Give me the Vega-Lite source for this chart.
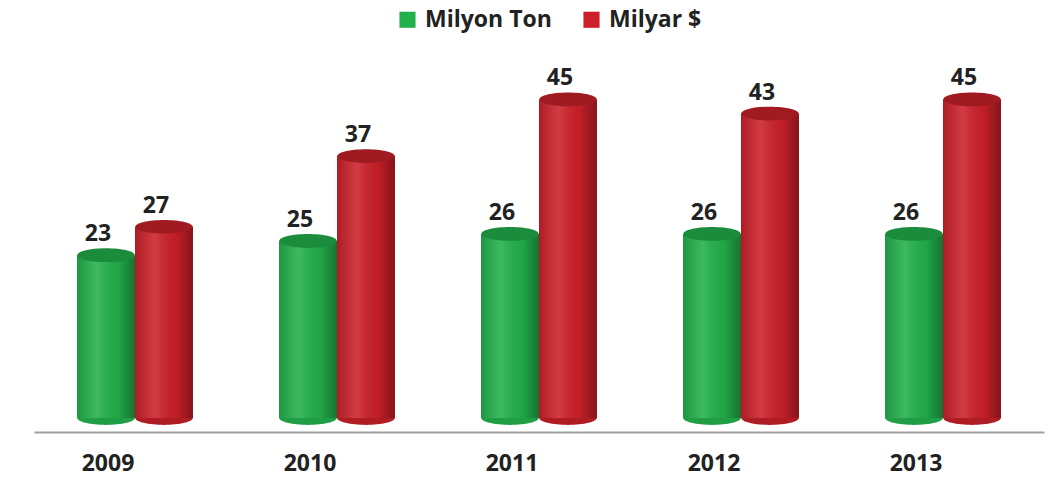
{
  "$schema": "https://vega.github.io/schema/vega-lite/v6.json",
  "width": 1010,
  "height": 354,
  "autosize": "none",
  "padding": {"left": 34, "top": 64, "right": 15, "bottom": 61},
  "background": "white",
  "config": {"view": {"stroke": null}, "font": "Open Sans"},
  "data": {"values": [
    {"year": "2009", "series": "Milyon Ton", "value": 23},
    {"year": "2009", "series": "Milyar $", "value": 27},
    {"year": "2010", "series": "Milyon Ton", "value": 25},
    {"year": "2010", "series": "Milyar $", "value": 37},
    {"year": "2011", "series": "Milyon Ton", "value": 26},
    {"year": "2011", "series": "Milyar $", "value": 45},
    {"year": "2012", "series": "Milyon Ton", "value": 26},
    {"year": "2012", "series": "Milyar $", "value": 43},
    {"year": "2013", "series": "Milyon Ton", "value": 26},
    {"year": "2013", "series": "Milyar $", "value": 45}
  ]},
  "encoding": {
    "x": {"field": "year", "type": "nominal", "title": null,
      "scale": {"paddingInner": 0.426, "paddingOuter": 0.213},
      "axis": {"labelAngle": 0, "ticks": false, "domainColor": "#a0a0a0", "domainWidth": 2, "offset": 14, "labelOffset": -27,
        "labelFont": "Open Sans", "labelFontSize": 23, "labelFontWeight": "bold", "labelColor": "#222222", "labelPadding": 20}},
    "xOffset": {"field": "series", "type": "nominal", "sort": ["Milyon Ton", "Milyar $"], "scale": {"paddingInner": 0, "paddingOuter": 0}},
    "y": {"field": "value", "type": "quantitative", "scale": {"domain": [0, 50]}, "axis": null}
  },
  "layer": [
    {
      "mark": {"type": "point", "filled": true, "opacity": 1, "shape": "M-1,0 A1,0.24 0 1,0 1,0 A1,0.24 0 1,0 -1,0 Z", "size": 3300},
      "encoding": {
        "y": {"datum": 0},
        "color": {"field": "series", "type": "nominal", "legend": null, "sort": ["Milyon Ton", "Milyar $"],
          "scale": {"domain": ["Milyon Ton", "Milyar $"], "range": ["#1f9e45", "#b01c24"]}}
      }
    },
    {
      "mark": {"type": "bar"},
      "encoding": {
        "color": {"field": "series", "type": "nominal", "sort": ["Milyon Ton", "Milyar $"],
          "scale": {"domain": ["Milyon Ton", "Milyar $"], "range": ["#22b04b", "#cc2029"]},
          "legend": {"title": null, "orient": "none", "legendX": 362, "legendY": -56, "direction": "horizontal", "symbolType": "square", "symbolSize": 260,
            "labelFont": "Open Sans", "labelFontSize": 23, "labelFontWeight": "bold", "labelColor": "#222222", "columnPadding": 28, "labelOffset": 6, "symbolStrokeWidth": 0}}
      }
    },
    {
      "mark": {"type": "bar", "fill": {"x1": 0, "x2": 1, "y1": 0, "y2": 0, "gradient": "linear", "stops": [
        {"offset": 0, "color": "rgba(0,0,0,0.15)"},
        {"offset": 0.35, "color": "rgba(255,255,255,0.12)"},
        {"offset": 0.7, "color": "rgba(0,0,0,0.05)"},
        {"offset": 1, "color": "rgba(0,0,0,0.35)"}]}},
      "encoding": {}
    },
    {
      "mark": {"type": "point", "filled": true, "opacity": 1, "shape": "M-1,0 A1,0.24 0 1,0 1,0 A1,0.24 0 1,0 -1,0 Z", "size": 3300},
      "encoding": {
        "color": {"field": "series", "type": "nominal", "legend": null, "sort": ["Milyon Ton", "Milyar $"],
          "scale": {"domain": ["Milyon Ton", "Milyar $"], "range": ["#1a8c3c", "#a01a22"]}}
      }
    },
    {
      "mark": {"type": "text", "baseline": "bottom", "dy": -9, "dx": -8, "font": "Open Sans", "fontSize": 23, "fontWeight": "bold", "color": "#222222"},
      "encoding": {"text": {"field": "value", "type": "quantitative"}}
    }
  ],
  "resolve": {"scale": {"color": "independent"}}
}
